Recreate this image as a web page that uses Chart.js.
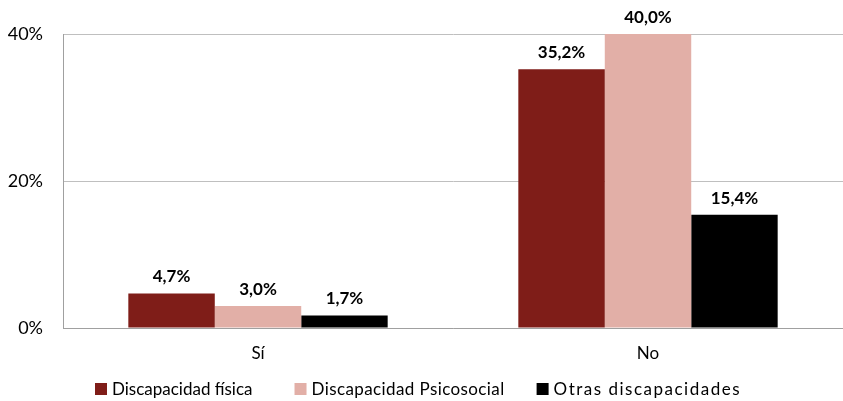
<!DOCTYPE html>
<html>
<head>
<meta charset="utf-8">
<script src="https://cdn.jsdelivr.net/npm/chart.js@4/dist/chart.umd.min.js"></script>
<style>
  html, body { margin: 0; padding: 0; background: #fff; }
  #wrap { width: 843px; height: 401px; position: relative; }
</style>
</head>
<body>
<div id="wrap"><canvas id="chart1"></canvas></div>
<script>
const categories = ["Sí", "No"];
const seriesNames = ["Discapacidad física", "Discapacidad Psicosocial", "Otras discapacidades"];
const seriesColors = ["#7f1d18", "#e2afa7", "#000000"];
const fisica = [4.7, 35.2];
const psicosocial = [3.0, 40.0];
const otras = [1.7, 15.4];
const yTicks = [0, 20, 40];

const FONT = "Lato, 'Open Sans', sans-serif";
const GRID = "#bfbfbf";
const AXIS = "#a0a0a0";

// value labels above each bar, comma decimal
const barLabels = {
  id: "barLabels",
  afterDatasetsDraw(chart) {
    const ctx = chart.ctx;
    ctx.save();
    ctx.font = "bold 17px " + FONT;
    ctx.fillStyle = "#000";
    ctx.textAlign = "center";
    ctx.textBaseline = "bottom";
    chart.data.datasets.forEach((ds, i) => {
      chart.getDatasetMeta(i).data.forEach((bar, j) => {
        const txt = ds.data[j].toFixed(1).replace(".", ",") + "%";
        ctx.fillText(txt, bar.x, bar.y - 8);
      });
    });
    ctx.restore();
  },
};

// legend drawn by hand so the spacing matches the original
const bottomLegend = {
  id: "bottomLegend",
  afterDraw(chart) {
    const ctx = chart.ctx;
    const spacing = ["0px", "0.4px", "1.5px"];
    const gaps = [42, 32];
    const box = 12, gapText = 5;
    let x = 95;
    const y = 389;
    ctx.save();
    chart.data.datasets.forEach((ds, i) => {
      ctx.fillStyle = ds.backgroundColor;
      ctx.fillRect(x, y - box / 2, box, box);
      ctx.font = "17px " + FONT;
      ctx.letterSpacing = spacing[i];
      ctx.fillStyle = "#000";
      ctx.textBaseline = "middle";
      ctx.textAlign = "left";
      const tx = x + box + gapText;
      ctx.fillText(ds.label, tx, y + 1);
      x = tx + ctx.measureText(ds.label).width + (gaps[i] || 0);
    });
    ctx.restore();
  },
};

const datasets = [fisica, psicosocial, otras].map((d, i) => ({
  label: seriesNames[i],
  data: d,
  backgroundColor: seriesColors[i],
  categoryPercentage: 0.665,
  barPercentage: 1.0,
}));

new Chart(document.getElementById("chart1"), {
  type: "bar",
  data: { labels: categories, datasets },
  options: {
    responsive: true,
    maintainAspectRatio: false,
    animation: false,
    layout: { padding: { top: 34, right: 0, left: 0, bottom: 0 } },
    plugins: {
      legend: { display: false },
      tooltip: { enabled: false },
    },
    scales: {
      x: {
        grid: { display: false, drawTicks: false },
        border: { color: AXIS, width: 1 },
        ticks: { color: "#000", font: { family: FONT, size: 17 }, padding: 15 },
        afterFit: (s) => { s.height = 73; },
      },
      y: {
        min: 0,
        max: 40,
        afterBuildTicks: (s) => { s.ticks = yTicks.map((v) => ({ value: v })); },
        grid: { color: GRID, drawTicks: false },
        border: { color: AXIS, width: 1 },
        ticks: {
          color: "#000",
          font: { family: FONT, size: 18 },
          padding: 20,
          callback: (v) => v + "%",
        },
        afterFit: (s) => { s.width = 63; },
      },
    },
  },
  plugins: [barLabels, bottomLegend],
});
</script>
</body>
</html>
